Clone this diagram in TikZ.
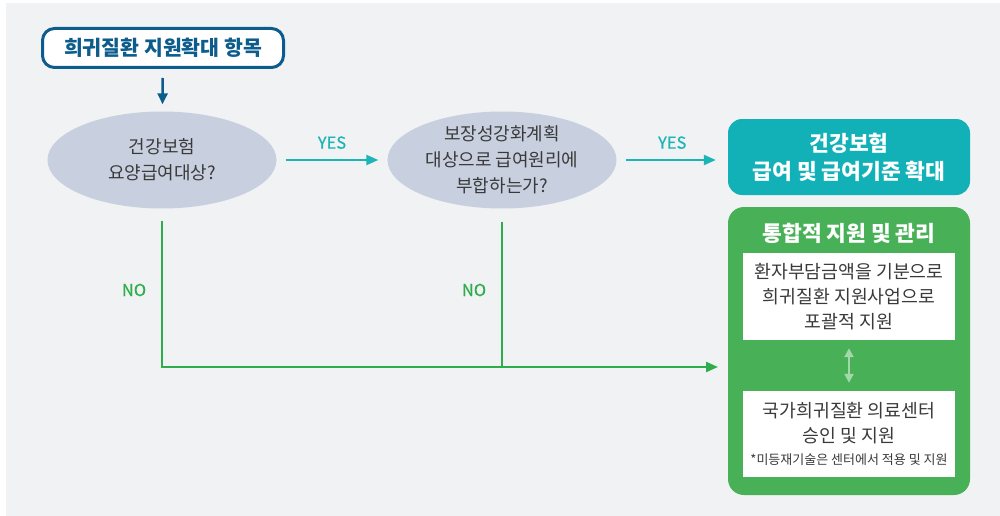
\documentclass[tikz,border=0pt]{standalone}
\usepackage{fontspec}
\setmainfont{Noto Sans CJK KR}
\newfontfamily\medfont[FakeBold=0.6]{Noto Sans CJK KR}
\usetikzlibrary{shapes.geometric,arrows.meta}
\definecolor{bgc}{HTML}{F1F2F4}
\definecolor{navy}{HTML}{0C5C8C}
\definecolor{ellc}{HTML}{C8CFDF}
\definecolor{tealbox}{HTML}{12B1B8}
\definecolor{tealline}{HTML}{1CB4B7}
\definecolor{greenbox}{HTML}{48B157}
\definecolor{greenline}{HTML}{2EAD4B}
\definecolor{lightgreen}{HTML}{A3D8A8}
\definecolor{txt}{HTML}{3A3A3A}
\begin{document}
\begin{tikzpicture}[x=1pt,y=-1pt,
  titlebox/.style={draw=navy,line width=3pt,fill=white,rounded corners=12pt,
    minimum width=241pt,minimum height=39pt,inner sep=0pt,text=navy,
    font=\fontsize{20.5}{24}\selectfont\bfseries},
  question/.style={ellipse,fill=ellc,minimum width=229pt,minimum height=97pt,
    inner sep=0pt,align=center,text=txt,font=\fontsize{18}{26}\selectfont},
  resultbox/.style={fill=tealbox,rounded corners=14pt,minimum width=242pt,
    minimum height=76pt,inner sep=0pt,align=center,text=white,
    font=\fontsize{21.5}{28}\selectfont\bfseries},
  groupbox/.style={fill=greenbox,rounded corners=16pt,minimum width=242pt,
    minimum height=288pt,inner sep=0pt},
  grouptitle/.style={text=white,font=\fontsize{21.5}{24}\selectfont\bfseries,inner sep=0pt},
  whitebox/.style={fill=white,minimum width=212pt,inner sep=0pt,align=center,
    text=txt,font=\fontsize{18.3}{25}\selectfont},
  yesarrow/.style={draw=tealline,line width=2.2pt,-{Triangle[length=12pt,width=10pt]}},
  noline/.style={draw=greenline,line width=2.2pt},
  navyarrow/.style={draw=navy,line width=2.5pt,-{Triangle[length=11pt,width=10pt]}},
  yeslabel/.style={text=tealline,font=\medfont\fontsize{16.5}{18}\selectfont,inner sep=0pt},
  nolabel/.style={text=greenline,font=\medfont\fontsize{16.5}{18}\selectfont,inner sep=0pt}
]
\useasboundingbox (0,0) rectangle (1000,516);
\fill[bgc] (6,3) rectangle (1000,516);

\node[titlebox] (title) at (163,48) {희귀질환 지원확대 항목};
\node[question] (q1) at (162,160) {건강보험\\요양급여대상?};
\node[question] (q2) at (502,160) {보장성강화계획\\대상으로 급여원리에\\부합하는가?};
\node[resultbox] (res) at (849,157) {건강보험\\급여 및 급여기준 확대};
\node[groupbox] (grp) at (849,351) {};
\node[grouptitle] (gtitle) at (849,233) {통합적 지원 및 관리};
\node[whitebox,minimum height=87pt] (w1) at (849,296.5)
  {환자부담금액을 기분으로\\희귀질환 지원사업으로\\포괄적 지원};
\node[whitebox,minimum height=86pt] (w2) at (849,434)
  {국가희귀질환 의료센터\\승인 및 지원\\[-3pt]{\fontsize{13}{15}\selectfont *미등재기술은 센터에서 적용 및 지원}};

\draw[navyarrow,shorten <=9pt,shorten >=7pt] (title) -- (q1);
\draw[yesarrow,shorten <=9pt,shorten >=9pt] (q1) -- (q2)
  node[yeslabel,midway,above=10pt] (yes1) {YES};
\draw[yesarrow,shorten <=9pt,shorten >=12pt] (q2) -- (q2 -| res.west)
  node[yeslabel,midway,above=10pt] (yes2) {YES};

\coordinate (noend) at (718,367);
\draw[noline,shorten <=12pt,-{Triangle[length=12pt,width=10pt]}] (q1.south) |- (noend);
\draw[noline,shorten <=13pt] (q2.south) -- (q2.south |- noend);
\node[nolabel] (no1) at (134,290) {NO};
\node[nolabel] (no2) at (474,290) {NO};

\draw[draw=lightgreen,line width=2pt,{Triangle[length=9pt,width=9pt]}-{Triangle[length=9pt,width=9pt]},shorten <=8pt,shorten >=8pt] (w1.south) -- (w2.north);
\end{tikzpicture}
\end{document}
